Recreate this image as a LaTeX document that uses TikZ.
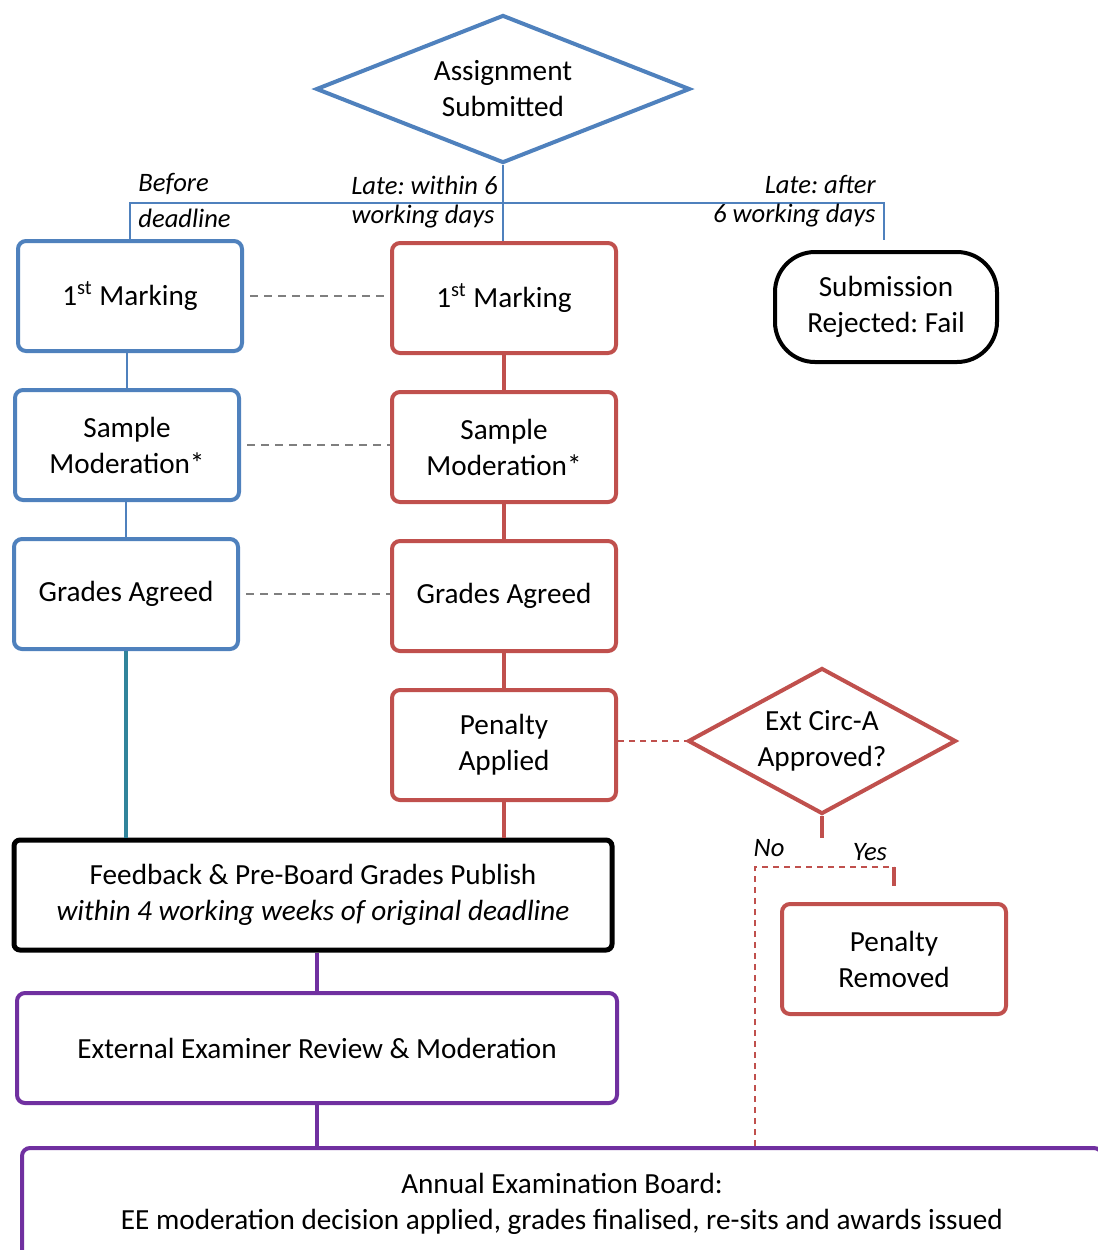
\documentclass[tikz,border=0pt]{standalone}
\usepackage{fontspec}
\setmainfont{Carlito}
\frenchspacing
\usetikzlibrary{positioning,shapes.geometric,calc}
\definecolor{flowblue}  {HTML}{4F81BD}
\definecolor{flowred}   {HTML}{C0504D}
\definecolor{flowpurple}{HTML}{7030A0}
\definecolor{flowteal}  {HTML}{31849B}
\definecolor{flowgray}  {HTML}{7F7F7F}
\newcommand{\mainsize}{\fontsize{14.6}{18}\selectfont}
\newcommand{\notesize}{\fontsize{13.3}{16}\selectfont\itshape}
\tikzset{
  stagebox/.style={
    rectangle, rounded corners=4pt, line width=2pt, fill=white,
    text=black, font=\mainsize, align=center,
    minimum width=112pt, minimum height=55pt, inner sep=4pt
  },
  bluebox/.style={stagebox, draw=flowblue},
  redbox/.style={stagebox, draw=flowred},
  purplebox/.style={stagebox, draw=flowpurple, minimum width=300pt},
  blackbox/.style={stagebox, draw=black, line width=2.5pt, rounded corners=3pt, minimum width=299pt},
  rejectbox/.style={stagebox, draw=black, rounded corners=20pt, minimum width=111pt},
  decision/.style={
    diamond, line width=2pt, fill=white, text=black, font=\mainsize,
    align=center, inner sep=0pt
  },
  thinblue/.style={draw=flowblue, line width=1pt},
  thickred/.style={draw=flowred, line width=2.2pt},
  thickpurple/.style={draw=flowpurple, line width=2pt},
  tealline/.style={draw=flowteal, line width=2pt},
  graydash/.style={draw=flowgray, line width=0.8pt, dash pattern=on 4pt off 3pt},
  reddash/.style={draw=flowred, line width=0.8pt, dash pattern=on 3pt off 2.5pt},
  branchlabel/.style={font=\notesize, inner sep=0pt}
}

\begin{document}
\begin{tikzpicture}[x=0.5pt, y=-0.5pt, node distance=17.5pt]
  \useasboundingbox (0,0) rectangle (1098,1250);
  \clip (0,0) rectangle (1098,1250);

  \node[decision, draw=flowblue, minimum width=187pt, minimum height=74pt, aspect=2.5] (asub) at (503,89) {Assignment\\Submitted};

  % before deadline
  \node[bluebox] (mk1) at (130,296) {1\textsuperscript{st} Marking};
  \node[bluebox, below=of mk1, xshift=-1.5pt] (sm1) {Sample\\Moderation*};
  \node[bluebox, below=of sm1, xshift=-0.5pt] (ga1) {Grades Agreed};

  % late, within 6 days
  \node[redbox] (mk2) at (504,298) {1\textsuperscript{st} Marking};
  \node[redbox, below=of mk2] (sm2) {Sample\\Moderation*};
  \node[redbox, below=of sm2] (ga2) {Grades Agreed};
  \node[redbox, below=of ga2] (pa) {Penalty\\Applied};

  \node[rejectbox] (rej) at (886,307) {Submission\\Rejected: Fail};
  \node[decision, draw=flowred, minimum width=134pt, minimum height=73pt, aspect=1.8] (ecd) at (822,741) {Ext Circ-A\\Approved?};
  \node[redbox] (pr) at (894,959) {Penalty\\Removed};

  \node[blackbox] (fb) at (313,895) {Feedback \& Pre-Board Grades Publish\\\textit{within 4 working weeks of original deadline}};
  \node[purplebox] (ext) at (317,1048) {External Examiner Review \& Moderation};
  \node[purplebox, minimum width=540pt, minimum height=56pt] (board) at (562,1204) {Annual Examination Board:\\EE moderation decision applied, grades finalised, re-sits and awards issued};

  % branches from the submission
  \coordinate (bar) at (503,203);
  \coordinate (rejtop) at (884,240);
  \draw[thinblue] (asub.south) -- (bar);
  \draw[thinblue] (mk1.north) |- (bar) -| (rejtop);
  \draw[thinblue] (bar) -- (bar |- mk2.north);
  \node[branchlabel, anchor=west] (lbefore) at (138,184) {Before};
  \node[branchlabel, anchor=west] (ldeadline) at (138,218) {deadline};
  \node[branchlabel, anchor=east] (lwithin) at (498,185) {Late: within 6};
  \node[branchlabel, anchor=east] (lwdays) at (495,217) {working days};
  \node[branchlabel, anchor=east] (lafter) at (876,184) {Late: after};
  \node[branchlabel, anchor=east] (lsix) at (876,216) {6 working days};

  \draw[thinblue] (mk1.south -| sm1.north) -- (sm1.north);
  \draw[thinblue] (sm1.south -| ga1.north) -- (ga1.north);
  \draw[thickred] (mk2) -- (sm2);
  \draw[thickred] (sm2) -- (ga2);
  \draw[thickred] (ga2) -- (pa);

  \draw[graydash, shorten <=3pt] (mk1.east) -- (mk1.east -| mk2.west);
  \draw[graydash, shorten <=3pt] (sm1.east) -- (sm1.east -| sm2.west);
  \draw[graydash, shorten <=3pt] (ga1.east) -- (ga1.east -| ga2.west);

  \draw[tealline] (ga1.south) -- (ga1.south |- fb.north);
  \draw[thickred] (pa.south) -- (pa.south |- fb.north);
  \draw[thickpurple] (fb.south -| ext.north) -- (ext.north);
  \draw[thickpurple] (ext.south) -- (ext.south |- board.north);

  % extenuating circumstances
  \draw[reddash] (ecd.west -| pa.east) -- (ecd.west);
  \coordinate (ecstub) at (822,838);
  \coordinate (yn) at (755,867);
  \coordinate (yesend) at (894,886);
  \draw[thickred] (ecd.south) -- (ecstub);
  \draw[reddash] (yn |- board.north) -- (yn) -- (yn -| yesend);
  \draw[thickred] (yn -| yesend) -- (yesend);
  \node[branchlabel] (lno) at (769,848) {No};
  \node[branchlabel] (lyes) at (870,852) {Yes};
\end{tikzpicture}
\end{document}
